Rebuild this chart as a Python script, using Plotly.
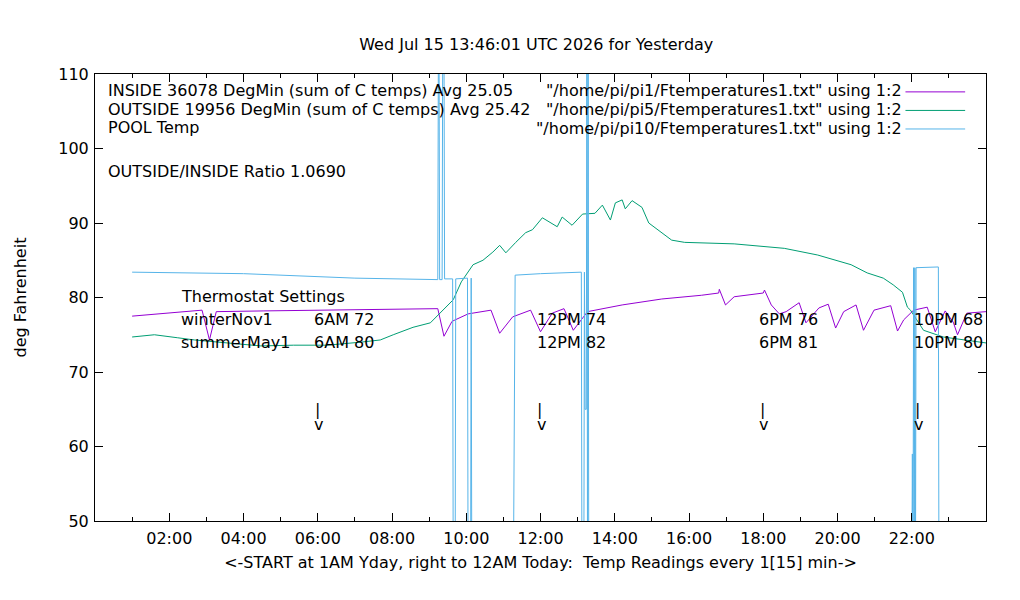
import plotly.graph_objects as go

# time of day "HH:MM" / temperature in deg F
inside_times = ["01:00", "01:53", "02:53", "03:05", "03:16", "04:33", "06:26", "08:18", "09:14",
                "09:24", "09:37", "10:03", "10:40", "10:54", "11:15", "11:44", "12:00", "12:19",
                "12:38", "12:53", "13:16", "14:12", "15:16", "16:20", "16:48", "16:49", "16:59",
                "17:13", "18:00", "18:02", "18:13", "18:26", "18:37", "18:58", "19:09", "19:30",
                "19:45", "19:57", "20:10", "20:30", "20:42", "20:59", "21:26", "21:37", "21:47",
                "22:03", "22:25", "22:38", "22:54", "23:07", "23:14", "23:29", "24:00"]
inside_temps = [77.5, 77.9, 78.3, 74.3, 78.1, 78.2, 78.3, 78.5, 78.5,
                74.8, 76.8, 77.8, 78.3, 75.2, 77.4, 78.3, 75.4, 77.9,
                78.5, 75.6, 78.1, 79.0, 79.8, 80.3, 80.6, 81.1, 79.0,
                80.1, 80.6, 81.0, 79.0, 77.8, 78.1, 79.3, 76.6, 78.6,
                79.1, 75.9, 78.1, 79.0, 75.6, 78.3, 78.9, 75.5, 77.0,
                78.3, 78.7, 75.4, 78.2, 76.7, 75.0, 77.9, 78.1]

outside_times = ["01:00", "01:36", "02:13", "02:41", "03:34", "04:28", "05:21", "06:15", "07:09",
                 "07:41", "08:02", "08:34", "09:02", "09:18", "09:39", "09:52", "10:11", "10:27",
                 "10:43", "10:54", "11:04", "11:20", "11:36", "11:47", "12:03", "12:27", "12:35",
                 "12:51", "13:08", "13:28", "13:40", "13:53", "14:01", "14:12", "14:17", "14:28",
                 "14:44", "14:55", "15:16", "15:32", "15:53", "17:13", "18:34", "19:28", "20:22",
                 "20:48", "21:14", "21:30", "21:45", "21:53", "21:58", "22:19", "22:51", "23:23",
                 "24:00"]
outside_temps = [74.7, 75.0, 74.6, 74.3, 73.9, 73.5, 73.6, 73.6, 74.0,
                 74.3, 75.0, 76.0, 76.6, 77.9, 79.7, 82.1, 84.4, 85.0,
                 86.1, 87.0, 86.0, 87.4, 88.7, 89.1, 90.7, 89.5, 90.8,
                 89.7, 91.2, 91.3, 92.4, 90.4, 92.7, 93.1, 91.9, 93.0,
                 92.1, 90.0, 88.7, 87.7, 87.4, 87.2, 86.6, 85.7, 84.4,
                 83.3, 82.6, 81.7, 80.7, 78.7, 78.3, 75.6, 74.7, 74.3,
                 73.9]

pool_times = ["01:00", "04:00", "07:00", "09:14", "09:15", "09:16", "09:17", "09:21", "09:22",
              "09:24", "09:25", "09:38", "09:39", "09:42", "09:43", "10:02", "10:03", "10:07",
              "10:08", "10:09", "11:16", "11:17", "11:19", "12:00", "13:06", "13:07", "13:10",
              "13:11", "13:12", "13:14", "13:15", "13:16", "13:17", "13:18", "22:00", "22:01",
              "22:02", "22:03", "22:04", "22:05", "22:06", "22:07", "22:43", "22:44", "24:00"]
pool_temps = [83.4, 83.2, 82.6, 82.4, 115, 115, 82.4, 82.4, 115,
              115, 82.5, 82.5, 40, 40, 82.5, 82.6, 40, 40,
              82.6, 40, 40, 60, 83.0, 83.2, 83.4, 40, 40,
              83.4, 65, 65, 115, 40, 115, 40, 40, 59,
              40, 84.0, 40, 84.0, 40, 84.0, 84.1, 40, 40]

tick_hours = [2, 4, 6, 8, 10, 12, 14, 16, 18, 20, 22]
tick_labels = ["02:00", "04:00", "06:00", "08:00", "10:00", "12:00",
               "14:00", "16:00", "18:00", "20:00", "22:00"]

seasons = ["winterNov1", "summerMay1"]
set_names = ["6AM", "12PM", "6PM", "10PM"]
set_hours = [6.0, 12.0, 18.0, 22.17]
winter_set = [72, 74, 76, 68]
summer_set = [80, 82, 81, 80]

key_names = ['"/home/pi/pi1/Ftemperatures1.txt" using 1:2',
             '"/home/pi/pi5/Ftemperatures1.txt" using 1:2',
             '"/home/pi/pi10/Ftemperatures1.txt" using 1:2']
info_lines = ["INSIDE 36078 DegMin (sum of C temps) Avg 25.05",
              "OUTSIDE 19956 DegMin (sum of C temps) Avg 25.42",
              "POOL Temp"]
ratio_text = "OUTSIDE/INSIDE Ratio 1.0690"

colors = ["#9400d3", "#009e73", "#56b4e9"]
FONT = "DejaVu Sans"
NUDGE = 0.16  # annotation padding, in hours


def hours(times):
    out = []
    for t in times:
        h, m = t.split(":")
        out.append(int(h) + int(m) / 60)
    return out


fig = go.Figure()
for tm, vals, col in [(inside_times, inside_temps, colors[0]),
                      (outside_times, outside_temps, colors[1]),
                      (pool_times, pool_temps, colors[2])]:
    fig.add_trace(go.Scatter(x=hours(tm), y=vals, mode="lines",
                             line=dict(color=col, width=1), showlegend=False))

ann = []
# top-left info labels
for i, txt in enumerate(info_lines):
    ann.append(dict(x=0.012, y=0.962 - i * 0.0405, xref="paper", yref="paper", text=txt,
                    showarrow=False, xanchor="left", yanchor="middle"))
ann.append(dict(x=0.012, y=0.781, xref="paper", yref="paper", text=ratio_text,
                showarrow=False, xanchor="left", yanchor="middle"))

# key (gnuplot style: text right, sample line after)
for i, txt in enumerate(key_names):
    ann.append(dict(x=0.9085, y=0.962 - i * 0.0415, xref="paper", yref="paper", text=txt,
                    showarrow=False, xanchor="right", yanchor="middle"))
    fig.add_shape(type="line", xref="paper", yref="paper",
                  x0=0.9096, x1=0.9766, y0=0.960 - i * 0.0415, y1=0.960 - i * 0.0415,
                  line=dict(color=colors[i], width=1))

# thermostat settings
ann.append(dict(x=2.41 - NUDGE, y=80.1, text="Thermostat Settings", showarrow=False,
                xanchor="left", yanchor="middle"))
ann.append(dict(x=2.41 - NUDGE, y=77.0, text=seasons[0], showarrow=False,
                xanchor="left", yanchor="middle"))
ann.append(dict(x=2.41 - NUDGE, y=74.0, text=seasons[1], showarrow=False,
                xanchor="left", yanchor="middle"))
for name, h, w, s in zip(set_names, set_hours, winter_set, summer_set):
    ann.append(dict(x=h - NUDGE, y=77.0, text=f"{name} {w}", showarrow=False,
                    xanchor="left", yanchor="middle"))
    ann.append(dict(x=h - NUDGE, y=74.0, text=f"{name} {s}", showarrow=False,
                    xanchor="left", yanchor="middle"))
    ann.append(dict(x=h - NUDGE + 0.02, y=64.9, text="|", showarrow=False,
                    xanchor="left", yanchor="middle"))
    ann.append(dict(x=h - NUDGE, y=63.0, text="v", showarrow=False,
                    xanchor="left", yanchor="middle"))

axis_common = dict(showline=True, linecolor="black", linewidth=1, mirror="ticks",
                   ticks="inside", tickcolor="black", ticklen=8, showgrid=False,
                   zeroline=False)

# page body has an 8px margin, so the figure is 8px smaller than the window
fig.update_layout(
    width=1012, height=592,
    margin=dict(l=82, r=34, t=66, b=79),
    paper_bgcolor="white", plot_bgcolor="white",
    font=dict(family=FONT, size=16, color="black"),
    title=dict(text="Wed Jul 15 13:46:01 UTC 2026 for Yesterday", x=0.522, xanchor="center",
               y=0.939, yanchor="middle", font=dict(size=16)),
    xaxis=dict(range=[0, 24], tickvals=tick_hours, ticktext=tick_labels,
               minor=dict(ticks="inside", dtick=1, ticklen=4, tickcolor="black"),
               ticklabelstandoff=3,
               title=dict(text="<-START at 1AM Yday, right to 12AM Today:  Temp Readings every 1[15] min->",
                          standoff=9, font=dict(size=16)),
               **axis_common),
    yaxis=dict(range=[50, 110], dtick=10, ticklabelstandoff=2,
               title=dict(text="deg Fahrenheit", standoff=27, font=dict(size=16)),
               **axis_common),
    annotations=ann,
    showlegend=False,
)

fig.write_html("out.html")
